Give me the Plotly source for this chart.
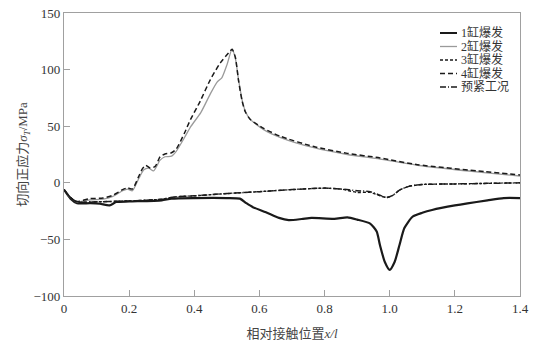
import plotly.graph_objects as go

# ---- data ----
x1 = [0, 0.02, 0.04, 0.08, 0.11, 0.14, 0.16, 0.2, 0.3, 0.33, 0.4, 0.5, 0.54, 0.56, 0.58, 0.62, 0.66, 0.69,
      0.73, 0.76, 0.83, 0.87, 0.9, 0.94, 0.96, 0.97, 0.985, 1.0, 1.015, 1.03, 1.045, 1.07, 1.1, 1.13, 1.2, 1.3, 1.35, 1.4]
y1 = [-6, -14, -18, -18, -18.5, -20, -17, -16.5, -15.5, -14, -13.5, -13.5, -14, -18, -21.5, -26, -31, -33,
      -32, -31, -31.8, -30.6, -32.5, -36, -43, -55, -70, -77, -70, -55, -40, -30, -26.5, -24, -20, -15.5, -13.5, -13.5]

x2 = [0, 0.02, 0.04, 0.08, 0.12, 0.15, 0.18, 0.195, 0.21, 0.23, 0.245, 0.26, 0.275, 0.295, 0.31, 0.33, 0.345,
      0.37, 0.39, 0.42, 0.45, 0.47, 0.485, 0.5, 0.516, 0.526, 0.536, 0.547, 0.557, 0.572, 0.613, 0.665, 0.767,
      0.87, 0.97, 1.085, 1.29, 1.4]
y2 = [-6, -13, -17, -15, -14.5, -12, -7, -5.5, -7, 4, 11.5, 13, 10.5, 20, 23, 23.5, 28,
      40, 50, 62, 79, 89, 93, 104, 118, 110, 91, 73, 63, 56, 47, 40, 31,
      25, 21, 15.5, 9, 6]

x3 = [0, 0.02, 0.04, 0.08, 0.14, 0.2, 0.3, 0.34, 0.4, 0.5, 0.6, 0.7, 0.8, 0.85, 0.9, 0.94, 0.97, 0.99,
      1.01, 1.03, 1.06, 1.1, 1.2, 1.3, 1.4]
y3 = [-6, -13, -17, -17, -16.5, -16, -14.5, -12.5, -11.5, -9.5, -7.8, -6, -4.7, -5.5, -8.5, -8.5, -11.5, -13,
      -11, -6.5, -3, -1.5, -1, -0.5, 0]

x4 = [0, 0.02, 0.04, 0.08, 0.12, 0.15, 0.18, 0.195, 0.21, 0.23, 0.24, 0.25, 0.265, 0.28, 0.295, 0.31, 0.33,
      0.345, 0.37, 0.388, 0.418, 0.449, 0.48, 0.505, 0.516, 0.526, 0.536, 0.547, 0.557, 0.572, 0.613, 0.665,
      0.767, 0.87, 0.97, 1.085, 1.29, 1.4]
y4 = [-6, -13, -16.5, -14, -13.5, -11, -6, -4.5, -5.5, 6, 12, 15.5, 13, 14.5, 23, 25.5, 26.5,
      30, 44, 55.7, 72, 91, 106, 114.6, 118, 111, 90, 72, 62.5, 56, 48, 41,
      32, 26, 22, 16, 10, 7]

x5 = [0, 0.02, 0.04, 0.08, 0.14, 0.2, 0.3, 0.34, 0.4, 0.5, 0.6, 0.7, 0.8, 0.85, 0.9, 0.94, 0.97, 0.99,
      1.01, 1.03, 1.06, 1.1, 1.2, 1.3, 1.4]
y5 = [-6, -13, -17, -17, -16.5, -16, -14.5, -12.5, -11.5, -9.5, -7.8, -6, -4.7, -5.5, -7, -7.8, -11, -13,
      -11, -6.5, -3, -1.5, -1, -0.5, 0]

names = ["1缸爆发", "2缸爆发", "3缸爆发", "4缸爆发", "预紧工况"]

xticks = [0, 0.2, 0.4, 0.6, 0.8, 1.0, 1.2, 1.4]
xticklabels = ["0", "0.2", "0.4", "0.6", "0.8", "1.0", "1.2", "1.4"]
yticks = [-100, -50, 0, 50, 100, 150]
yticklabels = ["−100", "−50", "0", "50", "100", "150"]

FONT = "Liberation Serif, Noto Sans CJK SC, serif"

W, H = 542, 355
ML, MR, MT, MB = 64, 22, 13, 59
PW, PH = W - ML - MR, H - MT - MB

fig = go.Figure()
styles = [
    dict(color="#1a1a1a", width=2.2, dash="solid"),
    dict(color="#9a9a9a", width=1.3, dash="solid"),
    dict(color="#1a1a1a", width=1.4, dash="3px,2px"),
    dict(color="#1a1a1a", width=1.5, dash="5px,3px"),
    dict(color="#1a1a1a", width=1.5, dash="6px,2px,1px,2px"),
]
for xs, ys, nm, st in zip([x1, x2, x3, x4, x5], [y1, y2, y3, y4, y5], names, styles):
    fig.add_trace(go.Scatter(x=xs, y=ys, name=nm, mode="lines", showlegend=False,
                             line=dict(color=st["color"], width=st["width"], dash=st["dash"],
                                       shape="spline", smoothing=0.6)))

# compact legend (drawn in paper coordinates)
leg_x0, leg_x1, leg_tx = 440, 457, 459
leg_y0, leg_dy = 33, 13.5
for i, (nm, st) in enumerate(zip(names, styles)):
    py = leg_y0 + i * leg_dy
    yp = (H - MB - py) / PH
    fig.add_shape(type="line", xref="paper", yref="paper",
                  x0=(leg_x0 - ML) / PW, x1=(leg_x1 - ML) / PW, y0=yp, y1=yp,
                  line=dict(color=st["color"], width=min(st["width"], 2), dash=st["dash"]))
    fig.add_annotation(xref="paper", yref="paper", x=(leg_tx - ML) / PW, y=yp,
                       xanchor="left", yanchor="middle", text=nm, showarrow=False,
                       font=dict(family=FONT, size=12, color="#333333"))

axis_common = dict(showline=True, linecolor="#a0a0a0", linewidth=1.2, mirror=True,
                   ticks="inside", ticklen=6, tickcolor="#a0a0a0", showgrid=False, zeroline=False,
                   automargin=False,
                   tickfont=dict(family=FONT, size=13, color="#333333"))

fig.update_layout(
    width=W, height=H,
    margin=dict(l=ML, r=MR, t=MT, b=MB, autoexpand=False),
    paper_bgcolor="white", plot_bgcolor="white",
    font=dict(family=FONT, size=12, color="#333333"),
    xaxis=dict(range=[0, 1.4], tickvals=xticks, ticktext=xticklabels,
               title=dict(text="相对接触位置<i>x/l</i>", font=dict(family=FONT, size=13, color="#444444"), standoff=14),
               **axis_common),
    yaxis=dict(range=[-100, 150], tickvals=yticks, ticktext=yticklabels,
               title=dict(text="切向正应力<i>σ<sub>T</sub></i>/MPa", font=dict(family=FONT, size=13, color="#444444"), standoff=2),
               **axis_common),
    showlegend=False,
)

fig.write_html("out.html", config={"displayModeBar": False},
               post_script="document.body.style.margin='0';document.body.style.padding='0';")
